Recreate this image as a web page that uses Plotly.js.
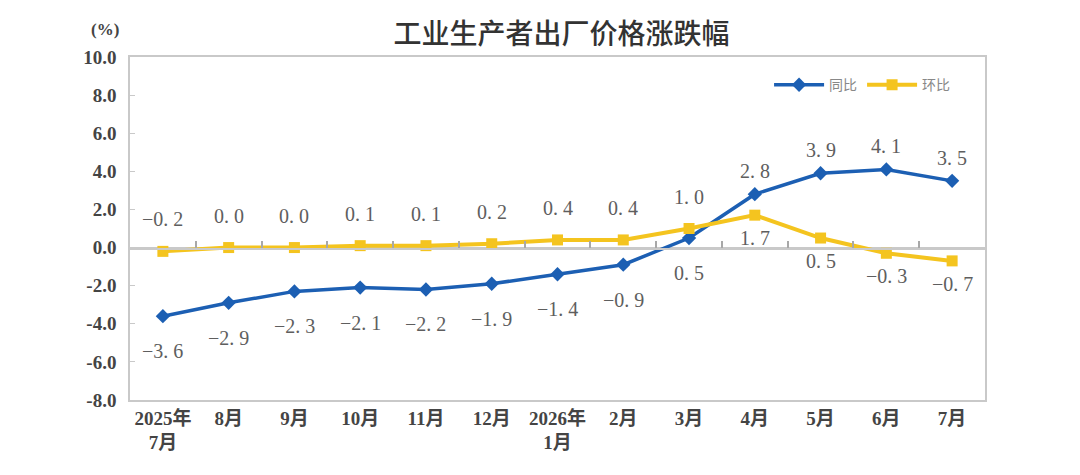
<!DOCTYPE html>
<html>
<head>
<meta charset="utf-8">
<script src="https://cdn.plot.ly/plotly-3.0.1.min.js"></script>
<style>
    html, body { margin: 0; padding: 0; background: #ffffff; }
    #grafica { width: 1080px; height: 475px; }
</style>
</head>
<body>
<div id="grafica"></div>
<script>
// Datos
const meses = ['2025年<br>7月', '8月', '9月', '10月', '11月', '12月', '2026年<br>1月', '2月', '3月', '4月', '5月', '6月', '7月'];
const tongbi = [-3.6, -2.9, -2.3, -2.1, -2.2, -1.9, -1.4, -0.9, 0.5, 2.8, 3.9, 4.1, 3.5];
const huanbi = [-0.2, 0.0, 0.0, 0.1, 0.1, 0.2, 0.4, 0.4, 1.0, 1.7, 0.5, -0.3, -0.7];
const yTicks = [-8, -6, -4, -2, 0, 2, 4, 6, 8, 10];

const AZUL = '#1c5fb3';
const AMARILLO = '#f4c41f';
const GRIS_EJE = '#c9c9c9';
const SERIF = '"Liberation Serif", "Noto Sans CJK SC", serif';
const Y_MIN = -8, Y_MAX = 10;
const POS_CERO = (0 - Y_MIN) / (Y_MAX - Y_MIN);
const RANGO_X = [-0.5, meses.length - 0.5];

// Indices de las categorias y fronteras entre ellas (para las marcas sobre el cero)
const indices = meses.map((_, i) => i);
const fronteras = meses.slice(1).map((_, i) => i + 0.5);

/**********************************************************************************************************************************************************/
// FORMATO DE LAS ETIQUETAS ("0. 4" como en el original)
function formatoEtiqueta(v) {
    return v.toFixed(1).replace('-', '−').replace('.', '. ');
}

/**********************************************************************************************************************************************************/
// ETIQUETAS DE DATOS: la serie de arriba pone su valor encima, la de abajo debajo
function construirEtiquetas() {
    const notas = [];
    meses.forEach((mes, i) => {
        const azulArriba = tongbi[i] > huanbi[i];
        notas.push({
            x: mes, y: tongbi[i], xref: 'x', yref: 'y',
            text: formatoEtiqueta(tongbi[i]), showarrow: false,
            yshift: azulArriba ? 23 : -35,
            font: { family: SERIF, size: 20, color: '#5e5e5e' }
        });
        notas.push({
            x: mes, y: huanbi[i], xref: 'x', yref: 'y',
            text: formatoEtiqueta(huanbi[i]), showarrow: false,
            yshift: azulArriba ? -23 : 32,
            font: { family: SERIF, size: 20, color: '#5e5e5e' }
        });
    });
    return notas;
}

const trazaTongbi = {
    x: meses, y: tongbi, name: '同比',
    type: 'scatter', mode: 'lines+markers',
    line: { color: AZUL, width: 3.5 },
    marker: { color: AZUL, symbol: 'diamond', size: 11 },
    hoverinfo: 'skip'
};

const trazaHuanbi = {
    x: meses, y: huanbi, name: '环比',
    type: 'scatter', mode: 'lines+markers',
    line: { color: AMARILLO, width: 4 },
    marker: { color: AMARILLO, symbol: 'square', size: 11 },
    hoverinfo: 'skip'
};

// Traza invisible en un subplot muy bajo pegado al cero, solo para dibujar las marcas del eje
const trazaMarcas = {
    x: indices, y: huanbi, xaxis: 'x2', yaxis: 'y2',
    type: 'scatter', mode: 'markers', marker: { opacity: 0 },
    showlegend: false, hoverinfo: 'skip'
};

const anotaciones = construirEtiquetas();
anotaciones.push({
    x: -0.029, y: 1.079, xref: 'paper', yref: 'paper',
    xanchor: 'center', yanchor: 'middle',
    text: '(%)', showarrow: false,
    font: { family: SERIF, size: 17, color: '#444444', weight: 'bold' }
});

const layout = {
    width: 1080,
    height: 475,
    paper_bgcolor: '#ffffff',
    plot_bgcolor: 'rgba(0,0,0,0)',
    margin: { t: 57, r: 95, b: 75, l: 130 },
    title: {
        text: '工业生产者出厂价格涨跌幅',
        x: 0.52, xanchor: 'center',
        y: 0.928, yanchor: 'middle',
        font: { family: '"Noto Sans CJK SC", sans-serif', size: 28, color: '#333333', weight: 500 }
    },
    showlegend: true,
    legend: {
        orientation: 'h',
        x: 0.965, xanchor: 'right',
        y: 0.918, yanchor: 'middle',
        itemwidth: 50,
        font: { family: '"Noto Sans CJK SC", sans-serif', size: 14, color: '#888888' },
        bgcolor: 'rgba(0,0,0,0)'
    },
    xaxis: {
        type: 'category',
        range: RANGO_X,
        showline: true, linecolor: GRIS_EJE, linewidth: 1.5, mirror: true,
        showgrid: false, zeroline: false,
        ticks: '',
        tickfont: { family: SERIF, size: 19, color: '#444444', weight: 'bold' }
    },
    yaxis: {
        range: [Y_MIN, Y_MAX],
        domain: [0, 1],
        tickvals: yTicks,
        ticktext: yTicks.map(v => v.toFixed(1)),
        showline: true, linecolor: GRIS_EJE, linewidth: 1.5, mirror: true,
        showgrid: false,
        zeroline: true, zerolinecolor: GRIS_EJE, zerolinewidth: 1.5,
        ticks: 'inside', ticklen: 5, tickcolor: GRIS_EJE,
        ticklabelstandoff: 8,
        tickfont: { family: SERIF, size: 19, color: '#444444', weight: 'bold' }
    },
    // Eje auxiliar: la linea del cero con sus marcas pequenas entre categorias
    xaxis2: {
        anchor: 'y2',
        range: RANGO_X,
        tickmode: 'array',
        tickvals: fronteras,
        ticktext: fronteras.map(() => '\u00a0'),
        showline: true, linecolor: GRIS_EJE, linewidth: 1.5,
        showgrid: false, zeroline: false,
        ticks: 'inside', ticklen: 7,
        tickcolor: '#a8a8a8', tickwidth: 2,
        tickfont: { size: 6, color: 'rgba(0,0,0,0)' }
    },
    yaxis2: {
        anchor: 'x2',
        domain: [POS_CERO, POS_CERO + 0.03],
        range: [-20, 20],
        showline: false, showgrid: false, zeroline: false,
        showticklabels: false, ticks: ''
    },
    annotations: anotaciones
};

Plotly.newPlot('grafica', [trazaTongbi, trazaHuanbi, trazaMarcas], layout, {
    displayModeBar: false
});
</script>
</body>
</html>
